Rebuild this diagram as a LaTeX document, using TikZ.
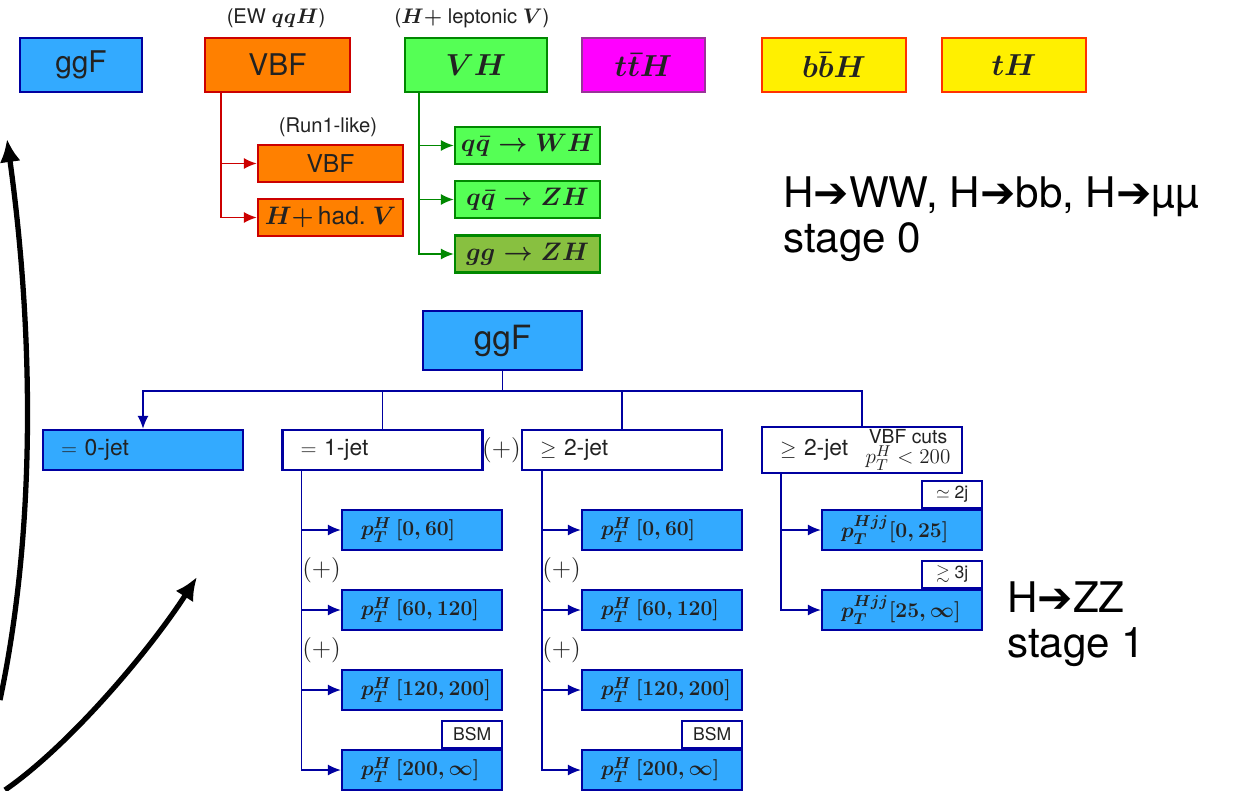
\documentclass[tikz,border=0pt]{standalone}
\usepackage{amsmath}
\usepackage{amssymb}
\usepackage{fontspec}
\setmainfont{TeX Gyre Heros}
\newfontfamily\arrowfont{DejaVu Sans}
\usetikzlibrary{arrows.meta,positioning}
\definecolor{ggffill}{RGB}{51,170,255}
\definecolor{ggfdraw}{RGB}{0,0,160}
\definecolor{vbffill}{RGB}{255,128,0}
\definecolor{vbfdraw}{RGB}{204,0,0}
\definecolor{vhfill}{RGB}{85,255,85}
\definecolor{vhdraw}{RGB}{0,136,0}
\definecolor{ggzhfill}{RGB}{136,192,64}
\definecolor{tthfill}{RGB}{255,0,255}
\definecolor{tthdraw}{RGB}{153,51,153}
\definecolor{bbhfill}{RGB}{255,240,0}
\definecolor{bbhdraw}{RGB}{255,51,0}
\definecolor{inktext}{RGB}{34,34,34}
\tikzset{
  prodbox/.style={draw,line width=1.3pt,minimum height=1.08cm,inner sep=0pt,
    text=inktext,font=\fontsize{17}{20}\selectfont\boldmath},
  subbox/.style={draw,line width=1.3pt,minimum width=2.9cm,minimum height=0.74cm,
    inner sep=0pt,text=inktext,font=\fontsize{14}{16}\selectfont\boldmath},
  jetbox/.style={draw=ggfdraw,line width=1.3pt,minimum height=0.8cm,inner xsep=0.36cm,
    inner ysep=0pt,text width=3.28cm,align=left,text=inktext,font=\fontsize{13}{15}\selectfont},
  binbox/.style={draw=ggfdraw,fill=ggffill,line width=1.3pt,minimum height=0.8cm,
    inner xsep=0.38cm,inner ysep=0pt,text width=2.44cm,align=left,text=inktext,
    font=\fontsize{13}{15}\selectfont\boldmath},
  tagbox/.style={draw=ggfdraw,fill=white,line width=1.1pt,minimum width=1.2cm,
    minimum height=0.54cm,inner sep=0pt,text=inktext,font=\fontsize{10}{12}\selectfont},
  cutlabel/.style={inner sep=0pt,align=center,text=inktext,font=\fontsize{11}{10}\selectfont},
  toplabel/.style={text=inktext,inner sep=0pt,font=\fontsize{11.5}{13}\selectfont\boldmath},
  pluslabel/.style={text=inktext,inner sep=0pt,font=\fontsize{14}{16}\selectfont},
  stagetext/.style={anchor=base west,inner sep=0pt,font=\fontsize{24}{28}\selectfont},
  vbfarc/.style={-{Latex[length=2.6mm,width=2.2mm]},line width=0.9pt,vbfdraw},
  vharc/.style={-{Latex[length=2.6mm,width=2.2mm]},line width=0.9pt,vhdraw},
  ggfarc/.style={-{Latex[length=2.6mm,width=2.2mm]},line width=0.9pt,ggfdraw},
  ggfline/.style={line width=0.9pt,ggfdraw},
  bigarrow/.style={-{Latex[length=4.6mm,width=4.2mm]},line width=3pt,black}
}
\newcommand{\hto}{{\arrowfont\char"2794}}
\newcommand{\muon}{\char"00B5}

\begin{document}
\begin{tikzpicture}[x=0.02cm,y=-0.02cm]
  \useasboundingbox (0,0) rectangle (1239,790);

  % stage 0: production modes
  \node[prodbox,draw=ggfdraw,fill=ggffill,minimum width=2.44cm] (ggf)  at (81,65)    {ggF};
  \node[prodbox,draw=vbfdraw,fill=vbffill,minimum width=2.9cm]  (vbf)  at (277.5,65) {VBF};
  \node[prodbox,draw=vhdraw,fill=vhfill,minimum width=2.84cm]   (vh)   at (476,65)   {$VH$};
  \node[prodbox,draw=tthdraw,fill=tthfill,minimum width=2.46cm] (tth)  at (643.5,65) {$t\bar{t}H$};
  \node[prodbox,draw=bbhdraw,fill=bbhfill,minimum width=2.88cm] (bbh)  at (834,65)   {$b\bar{b}H$};
  \node[prodbox,draw=bbhdraw,fill=bbhfill,minimum width=2.88cm] (th)   at (1014,65)  {$tH$};
  \node[toplabel] (vbflab) at (276,18) {(EW $qqH$)};
  \node[toplabel] (vhlab)  at (472,18) {($H+$ leptonic $V$)};

  \node[subbox,draw=vbfdraw,fill=vbffill] (vbfa) at (330.5,163.5) {VBF};
  \node[subbox,draw=vbfdraw,fill=vbffill] (vbfb) at (330.5,217.5) {$H+$\,had.\ $V$};
  \node[toplabel] (runlab) at (328,127) {(Run1-like)};
  \node[subbox,draw=vhdraw,fill=vhfill]   (vha)  at (527.5,145.5) {$q\bar{q}\rightarrow WH$};
  \node[subbox,draw=vhdraw,fill=vhfill]   (vhb)  at (527.5,199.5) {$q\bar{q}\rightarrow ZH$};
  \node[subbox,draw=vhdraw,fill=ggzhfill] (vhc)  at (527.5,254)   {$gg\rightarrow ZH$};

  \draw[vbfarc] ([xshift=0.34cm]vbf.south west) |- (vbfa.west);
  \draw[vbfarc] ([xshift=0.34cm]vbf.south west) |- (vbfb.west);
  \draw[vharc] ([xshift=0.3cm]vh.south west) |- (vha.west);
  \draw[vharc] ([xshift=0.3cm]vh.south west) |- (vhb.west);
  \draw[vharc] ([xshift=0.3cm]vh.south west) |- (vhc.west);

  \node[stagetext] (decay0) at (783,208) {H\hto WW, H\hto bb, H\hto\muon\muon};
  \node[stagetext] (stage0) at (783,253) {stage 0};

  % stage 1: ggF split
  \node[prodbox,draw=ggfdraw,fill=ggffill,minimum width=3.18cm,minimum height=1.18cm,
    font=\fontsize{19}{22}\selectfont] (ggfs) at (502.5,340.5) {ggF};
  \node[jetbox,fill=ggffill] (jet0) at (143,450)   {$=$ 0-jet};
  \node[jetbox,fill=white]   (jet1) at (382.5,450) {$=$ 1-jet};
  \node[jetbox,fill=white]   (jet2) at (622,450)   {$\geq$ 2-jet};
  \node[pluslabel] (plusmid) at (501.5,450) {$(+)$};
  \node[jetbox,fill=white,minimum height=0.92cm] (jetv) at (862,450) {$\geq$ 2-jet};
  \node[cutlabel] (cuts) at (908,450) {VBF cuts\\{\fontsize{12.5}{12}\selectfont$p_T^H<200$}};

  \draw[ggfarc] (ggfs.south) -- ++(0,-0.4cm) -| (jet0.north);
  \draw[ggfline] (ggfs.south) -- ++(0,-0.4cm) -| (jet1.north);
  \draw[ggfline] (ggfs.south) -- ++(0,-0.4cm) -| (jet2.north);
  \draw[ggfline] (ggfs.south) -- ++(0,-0.4cm) -| (jetv.north);

  \node[binbox] (oneA) at (422,530) {$p_T^H\,[0,60]$};
  \node[binbox] (oneB) at (422,610) {$p_T^H\,[60,120]$};
  \node[binbox] (oneC) at (422,690) {$p_T^H\,[120,200]$};
  \node[binbox] (oneD) at (422,770) {$p_T^H\,[200,\infty]$};
  \node[binbox] (twoA) at (662,530) {$p_T^H\,[0,60]$};
  \node[binbox] (twoB) at (662,610) {$p_T^H\,[60,120]$};
  \node[binbox] (twoC) at (662,690) {$p_T^H\,[120,200]$};
  \node[binbox] (twoD) at (662,770) {$p_T^H\,[200,\infty]$};
  \node[binbox] (vjA)  at (902,530) {$p_T^{Hjj}[0,25]$};
  \node[binbox] (vjB)  at (902,610) {$p_T^{Hjj}[25,\infty]$};

  \node[tagbox,anchor=south east] (bsm1) at (oneD.north east) {BSM};
  \node[tagbox,anchor=south east] (bsm2) at (twoD.north east) {BSM};
  \node[tagbox,anchor=south east] (tag2j) at (vjA.north east) {$\simeq$ 2j};
  \node[tagbox,anchor=south east] (tag3j) at (vjB.north east) {$\gtrsim$ 3j};

  \node[pluslabel,anchor=west] (plusA) at (302,570) {$(+)$};
  \node[pluslabel,anchor=west] (plusB) at (302,650) {$(+)$};
  \node[pluslabel,anchor=west] (plusC) at (542,570) {$(+)$};
  \node[pluslabel,anchor=west] (plusD) at (542,650) {$(+)$};

  \foreach \b in {oneA,oneB,oneC,oneD}
    \draw[ggfarc] ([xshift=0.4cm]jet1.south west) |- (\b.west);
  \foreach \b in {twoA,twoB,twoC,twoD}
    \draw[ggfarc] ([xshift=0.42cm]jet2.south west) |- (\b.west);
  \foreach \b in {vjA,vjB}
    \draw[ggfarc] ([xshift=0.4cm]jetv.south west) |- (\b.west);

  \node[stagetext] (decay1) at (1007,612) {H\hto ZZ};
  \node[stagetext] (stage1) at (1007,657) {stage 1};

  % evolution arrows
  \coordinate (upfoot) at (0,700);
  \coordinate (uptip) at (7,139);
  \coordinate (diagfoot) at (5,790);
  \coordinate (diagtip) at (197,577);
  \draw[bigarrow] (upfoot) .. controls (38,520) and (32,320) .. (uptip);
  \draw[bigarrow] (diagfoot) .. controls (70,745) and (150,650) .. (diagtip);
\end{tikzpicture}
\end{document}
